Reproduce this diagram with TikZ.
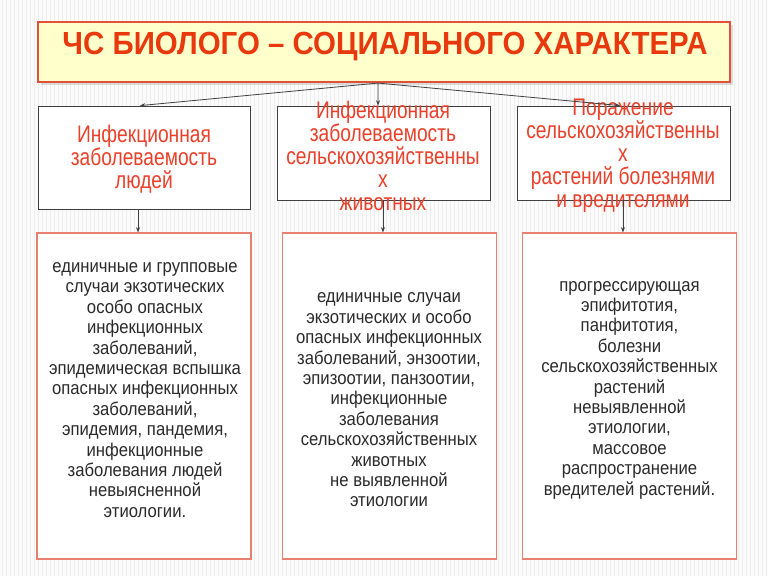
\documentclass[tikz,border=0pt]{standalone}
\usepackage{fontspec}
\setmainfont{Liberation Sans}
\newfontfamily\titlefont[FakeStretch=0.92]{Liberation Sans}
\newfontfamily\narrowfont[FakeStretch=0.8]{Liberation Sans}
\newfontfamily\bodyfont[FakeStretch=0.9]{Liberation Sans}
\usetikzlibrary{arrows.meta,shadows}
\definecolor{titlered}{HTML}{E8380D}
\definecolor{midred}{HTML}{E8402A}
\definecolor{titleborder}{HTML}{E2503A}
\definecolor{titlefill}{HTML}{FFFFCC}
\definecolor{lowborder}{HTML}{E88070}
\definecolor{bodytext}{HTML}{2A2A2A}
\definecolor{bgcol}{HTML}{FBFBFB}
\definecolor{stripecol}{HTML}{EEEEEE}
\begin{document}
\begin{tikzpicture}[x=0.75pt,y=-0.75pt,
  titlebox/.style={draw=titleborder,line width=1.6pt,fill=titlefill,
    drop shadow={shadow xshift=2pt,shadow yshift=-2pt,opacity=0.25}},
  midbox/.style={draw=black!75,line width=0.6pt,fill=white},
  lowbox/.style={draw=lowborder,line width=0.8pt,fill=white,
    minimum width=160.5pt,minimum height=244.5pt},
  midtext/.style={text=midred,align=center,inner sep=0pt,
    font=\narrowfont\fontsize{18pt}{17.25pt}\selectfont},
  lowtext/.style={text=bodytext,align=center,inner sep=0pt,
    font=\bodyfont\fontsize{13.9pt}{15.3pt}\selectfont},
  arr/.style={draw=black!75,line width=0.6pt,-{Stealth[length=4pt,width=3pt]}}]
\useasboundingbox (0,0) rectangle (768,576);
\fill[bgcol] (0,0) rectangle (768,576);
\foreach \i in {2,6,...,766} \draw[stripecol,line width=0.6pt] (\i,0) -- (\i,576);

% title
\node[titlebox,minimum width=519pt,minimum height=45pt] (title) at (384,52) {};
\node[text=titlered,inner sep=0pt,font=\titlefont\bfseries\fontsize{24pt}{28pt}\selectfont]
  (titletext) at (385,46.5) {ЧС БИОЛОГО – СОЦИАЛЬНОГО ХАРАКТЕРА};
\coordinate (hub) at ([xshift=-4.5pt]title.south);

% second row
\node[midbox,minimum width=159pt,minimum height=77.25pt] (A) at (144,157.5) {};
\node[midbox,minimum width=159.75pt,minimum height=70.5pt] (B) at (383.5,153) {};
\node[midbox,minimum width=159.75pt,minimum height=70.5pt] (C) at (623.5,153) {};
\node[midtext] (Atext) at (144,159) {Инфекционная\\заболеваемость\\людей};
\node[midtext] (Btext) at (383,156) {Инфекционная\\заболеваемость\\сельскохозяйственны\\х\\животных};
\node[midtext] (Ctext) at (623,156) {Поражение\\сельскохозяйственны\\х\\ растений болезнями\\и вредителями};

\draw[arr] (hub) -- ([xshift=-3pt]A.north);
\draw[arr] (hub) -- ([xshift=-4.1pt]B.north);
\draw[arr] (hub) -- ([xshift=-2.6pt]C.north);

% third row
\node[lowbox] (A3) at (144,396) {};
\node[lowbox] (B3) at (389.5,396) {};
\node[lowbox] (C3) at (629.5,396) {};
\node[lowtext] (A3text) at (145,390) {единичные и групповые\\случаи экзотических\\особо опасных\\инфекционных\\заболеваний,\\эпидемическая вспышка\\опасных инфекционных\\заболеваний,\\эпидемия, пандемия,\\инфекционные\\заболевания людей\\невыясненной\\этиологии.};
\node[lowtext] (B3text) at (389,400) {единичные случаи\\экзотических и особо\\опасных инфекционных\\заболеваний, энзоотии,\\эпизоотии, панзоотии,\\инфекционные\\заболевания\\сельскохозяйственных\\животных\\не выявленной\\этиологии};
\node[lowtext] (C3text) at (629.5,390) {прогрессирующая\\эпифитотия,\\панфитотия,\\болезни\\сельскохозяйственных\\растений\\невыявленной\\этиологии,\\массовое\\распространение\\вредителей растений.};

\draw[arr] ([xshift=-4.5pt]A.south) -- ([xshift=-4.5pt]A3.north);
\draw[arr] ([xshift=-0.4pt]B.south) -- ([xshift=-4.9pt]B3.north);
\draw[arr] ([xshift=-0.4pt]C.south) -- ([xshift=-4.9pt]C3.north);
\end{tikzpicture}
\end{document}
